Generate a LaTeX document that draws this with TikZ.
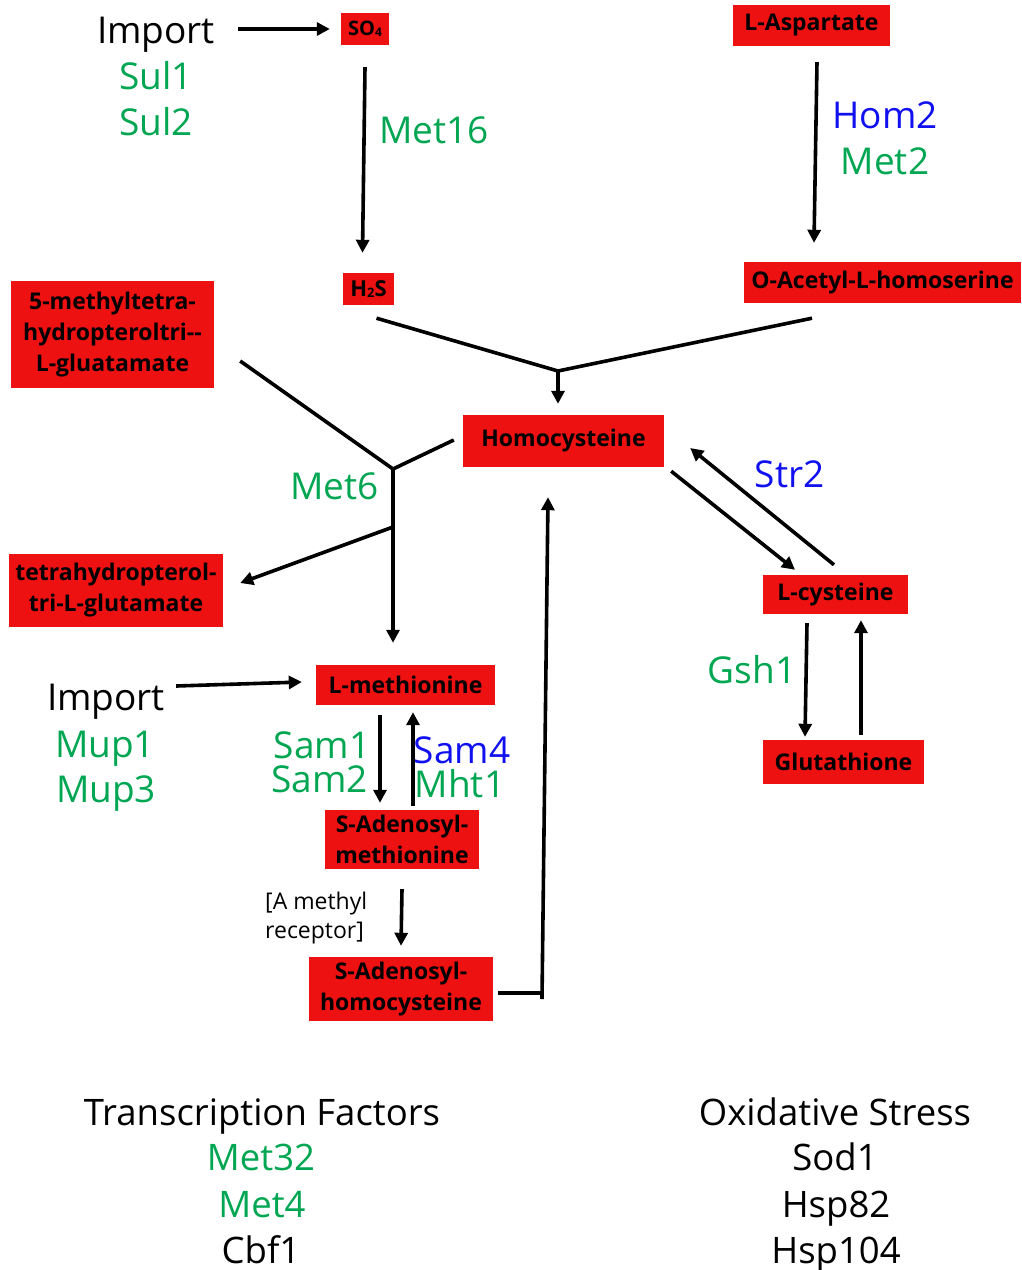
\documentclass[tikz,border=0pt]{standalone}
\usepackage{fontspec}
\setmainfont{Open Sans}
\usetikzlibrary{arrows.meta}
\definecolor{boxred}{HTML}{EE1111}
\definecolor{enzgreen}{HTML}{00A651}
\definecolor{enzblue}{HTML}{1010F0}
\tikzset{
  met/.style={fill=boxred, inner sep=0pt, align=center, font=\fontsize{23}{31}\selectfont\bfseries},
  lbl/.style={anchor=base, inner sep=0pt, font=\fontsize{37}{40}\selectfont},
  grn/.style={lbl, text=enzgreen},
  blu/.style={lbl, text=enzblue},
  blk/.style={lbl, text=black},
  btm/.style={anchor=base, inner sep=0pt, font=\fontsize{36.5}{40}\selectfont},
  ln/.style={line width=3.6pt},
  arr/.style={line width=3.6pt, -{Triangle[length=13pt,width=13pt]}}
}
\begin{document}
\begin{tikzpicture}[x=1pt,y=-1pt]
\useasboundingbox (0,0) rectangle (1021,1270);
% metabolites
\node[met, minimum width=48pt, minimum height=32pt, font=\fontsize{20}{22}\selectfont\bfseries] (so4) at (365,29) {SO\raisebox{-0.1ex}{\fontsize{12}{13}\selectfont 4}};
\node[met, minimum width=51pt, minimum height=32pt, font=\fontsize{22}{24}\selectfont\bfseries] (h2s) at (368.5,289) {H\raisebox{-0.1ex}{\fontsize{13}{14}\selectfont 2}S};
\node[met, minimum width=203pt, minimum height=107pt] (mthf) at (112.5,334.5) {5-methyltetra-\\hydropteroltri-{}-\\L-gluatamate};
\node[met, minimum width=157pt, minimum height=41pt] (asp) at (811.5,25.5) {L-Aspartate};
\node[met, minimum width=277pt, minimum height=41pt] (oah) at (882.5,282.5) {O-Acetyl-L-homoserine};
\node[met, minimum width=201pt, minimum height=52pt] (hcy) at (563.5,441) {Homocysteine};
\node[met, minimum width=145pt, minimum height=39pt] (lcys) at (835.5,594.5) {L-cysteine};
\node[met, minimum width=161pt, minimum height=44pt] (glut) at (843.5,762) {Glutathione};
\node[met, minimum width=214pt, minimum height=73pt] (thf) at (116,590.5) {tetrahydropterol-\\tri-L-glutamate};
\node[met, minimum width=179pt, minimum height=40pt] (lmet) at (405.5,685) {L-methionine};
\node[met, minimum width=154pt, minimum height=59pt] (sam) at (402,839.5) {S-Adenosyl-\\methionine};
\node[met, minimum width=184pt, minimum height=64pt] (sah) at (401,989) {S-Adenosyl-\\homocysteine};
% labels
\node[blk] (imp1) at (156,43) {Import};
\node[grn] (sul1) at (156,89) {Sul1};
\node[grn] (sul2) at (156,135) {Sul2};
\node[grn] (met16) at (434,143) {Met16};
\node[blu] (hom2) at (885,128) {Hom2};
\node[grn] (met2) at (885,174) {Met2};
\node[grn] (met6) at (334.5,499) {Met6};
\node[blk] (imp2) at (106,710) {Import};
\node[grn] (mup1) at (105,757) {Mup1};
\node[grn] (mup3) at (106,802) {Mup3};
\node[grn] (sam1) at (322,758) {Sam1};
\node[grn] (sam2) at (319.5,792) {Sam2};
\node[blu] (sam4) at (462,763) {Sam4};
\node[grn] (mht1) at (460,797) {Mht1};
\node[blu] (str2) at (789.5,487) {Str2};
\node[grn] (gsh1) at (752,683) {Gsh1};
\node[anchor=west, inner sep=0pt, align=left, font=\fontsize{23}{29}\selectfont] (mrec) at (265,918) {[A methyl\\receptor]};
% bottom lists
\node[btm] (tf) at (262,1125) {Transcription Factors};
\node[btm, text=enzgreen] (met32) at (261,1170) {Met32};
\node[btm, text=enzgreen] (met4) at (262,1217) {Met4};
\node[btm] (cbf1) at (261,1263) {Cbf1};
\node[btm] (ox) at (835,1125) {Oxidative Stress};
\node[btm] (sod1) at (835,1170) {Sod1};
\node[btm] (hsp82) at (836,1217) {Hsp82};
\node[btm] (hsp104) at (836,1263) {Hsp104};
% junctions
\coordinate (j1) at (558,371);
\coordinate (j2) at (393,469);
\coordinate (j3) at (393,527);
\coordinate (c1) at (542,993);
\coordinate (c2) at (542,999);
% connectors
\draw[arr] ([xshift=23pt]imp1.east |- so4.west) -- ([xshift=-11pt]so4.west);
\draw[arr] ([yshift=-22pt]so4.south) -- ([shift={(-6pt,20pt)}]h2s.north);
\draw[arr] ([shift={(5.5pt,-16pt)}]asp.south) -- ([shift={(-68.5pt,19pt)}]oah.north);
\draw[ln] ([shift={(8pt,-13pt)}]h2s.south) -- (j1) -- ([shift={(-70.5pt,-15pt)}]oah.south);
\draw[arr] (j1) -- ([yshift=11pt]j1 |- hcy.north);
\draw[ln] ([shift={(26pt,-26.5pt)}]mthf.east) -- (j2) -- ([shift={(-9pt,1pt)}]hcy.west);
\draw[ln] (j2) -- (j3);
\draw[arr] (j3) -- ([shift={(17pt,7.5pt)}]thf.east);
\draw[arr] (j3) -- ([yshift=22pt]j3 |- lmet.north);
\draw[arr] ([shift={(11pt,-1pt)}]imp2.east |- lmet.west) -- ([shift={(-14pt,3pt)}]lmet.west);
\draw[arr] ([shift={(-25.5pt,-10pt)}]lmet.south) -- ([shift={(-22pt,7pt)}]sam.north);
\draw[arr] ([shift={(11pt,4pt)}]sam.north) -- ([shift={(7.5pt,-7pt)}]lmet.south);
\draw[arr] ([yshift=-20pt]sam.south) -- ([yshift=11pt]sah.north);
\draw[ln] ([shift={(5pt,-4pt)}]sah.east) -- (c1);
\draw[arr] (c2) -- ([shift={(-15.5pt,-30pt)}]hcy.south);
\draw[arr] ([shift={(7pt,-4pt)}]hcy.south east) -- ([shift={(-40.5pt,5pt)}]lcys.north);
\draw[arr] ([shift={(-1.5pt,10pt)}]lcys.north) -- ([shift={(26pt,-7pt)}]hcy.east);
\draw[arr] ([shift={(-28.5pt,-9pt)}]lcys.south) -- ([shift={(-38.5pt,3pt)}]glut.north);
\draw[arr] ([shift={(17.5pt,5pt)}]glut.north) -- ([shift={(25.5pt,-6pt)}]lcys.south);
\end{tikzpicture}
\end{document}
